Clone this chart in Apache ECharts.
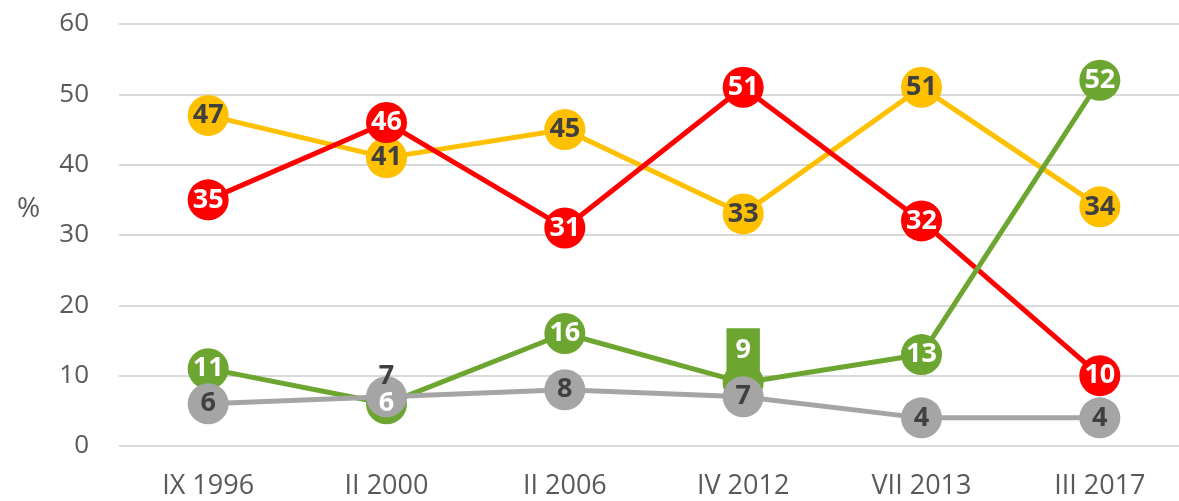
<!DOCTYPE html>
<html lang="en">
<head>
    <meta charset="UTF-8">
    <title>Line chart</title>
    <script src="https://cdn.jsdelivr.net/npm/echarts@6/dist/echarts.min.js"></script>
    <style>
        html, body { margin: 0; padding: 0; background: #fff; }
        #chart { width: 1179px; height: 501px; }
    </style>
</head>
<body>
<div id="chart"></div>
<script type="text/javascript">
    // data
    var categories = ['IX 1996', 'II 2000', 'II 2006', 'IV 2012', 'VII 2013', 'III 2017'];
    var yellowValues = [47, 41, 45, 33, 51, 34];
    var redValues = [35, 46, 31, 51, 32, 10];
    var greenValues = [11, 6, 16, 9, 13, 52];
    var grayValues = [6, 7, 8, 7, 4, 4];

    var axisColor = '#595959';
    var darkLabel = '#404040';
    var labelFont = '"Open Sans", "Liberation Sans", sans-serif';

    function makeSeries(name, values, color, textColor) {
        return {
            name: name,
            type: 'line',
            data: values,
            symbol: 'circle',
            symbolSize: 41,
            lineStyle: { width: 5, color: color },
            itemStyle: { color: color },
            label: {
                show: true,
                position: 'inside',
                color: textColor,
                fontFamily: labelFont,
                fontWeight: 'bold',
                fontSize: 27
            },
            emphasis: { disabled: true }
        };
    }

    var greenSeries = makeSeries('green', greenValues, '#6CA631', '#ffffff');
    // the "9" sits above its point on a green box
    greenSeries.data = greenValues.map(function (v, i) {
        if (i === 3) {
            return {
                value: v,
                label: {
                    position: 'top',
                    distance: -12,
                    backgroundColor: '#6CA631',
                    padding: [9, 9, 10, 9]
                }
            };
        }
        return v;
    });

    var graySeries = makeSeries('gray', grayValues, '#A5A5A5', darkLabel);
    // the "7" at II 2000 is lifted above the circle
    graySeries.data = grayValues.map(function (v, i) {
        if (i === 1) {
            return { value: v, label: { offset: [0, -20] } };
        }
        return v;
    });

    var chart = echarts.init(document.getElementById('chart'));
    var option = {
        animation: false,
        title: {
            text: '%',
            left: 12,
            top: 190,
            textStyle: { color: axisColor, fontSize: 28, fontWeight: 'normal', fontFamily: labelFont }
        },
        grid: { left: 119, width: 1070, top: 24, bottom: 55, outerBoundsMode: 'none', containLabel: false },
        xAxis: {
            type: 'category',
            data: categories,
            boundaryGap: true,
            axisLine: { show: false },
            axisTick: { show: false },
            axisLabel: { color: axisColor, fontSize: 27, fontFamily: labelFont, margin: 27 }
        },
        yAxis: {
            type: 'value',
            min: 0,
            max: 60,
            interval: 10,
            axisLine: { show: false },
            axisTick: { show: false },
            axisLabel: { color: axisColor, fontSize: 26, fontFamily: labelFont, margin: 30 },
            splitLine: { lineStyle: { color: '#d9d9d9', width: 2 } }
        },
        series: [
            makeSeries('yellow', yellowValues, '#FFC000', darkLabel),
            makeSeries('red', redValues, '#FF0000', '#ffffff'),
            greenSeries,
            graySeries
        ]
    };
    chart.setOption(option);
</script>
</body>
</html>
